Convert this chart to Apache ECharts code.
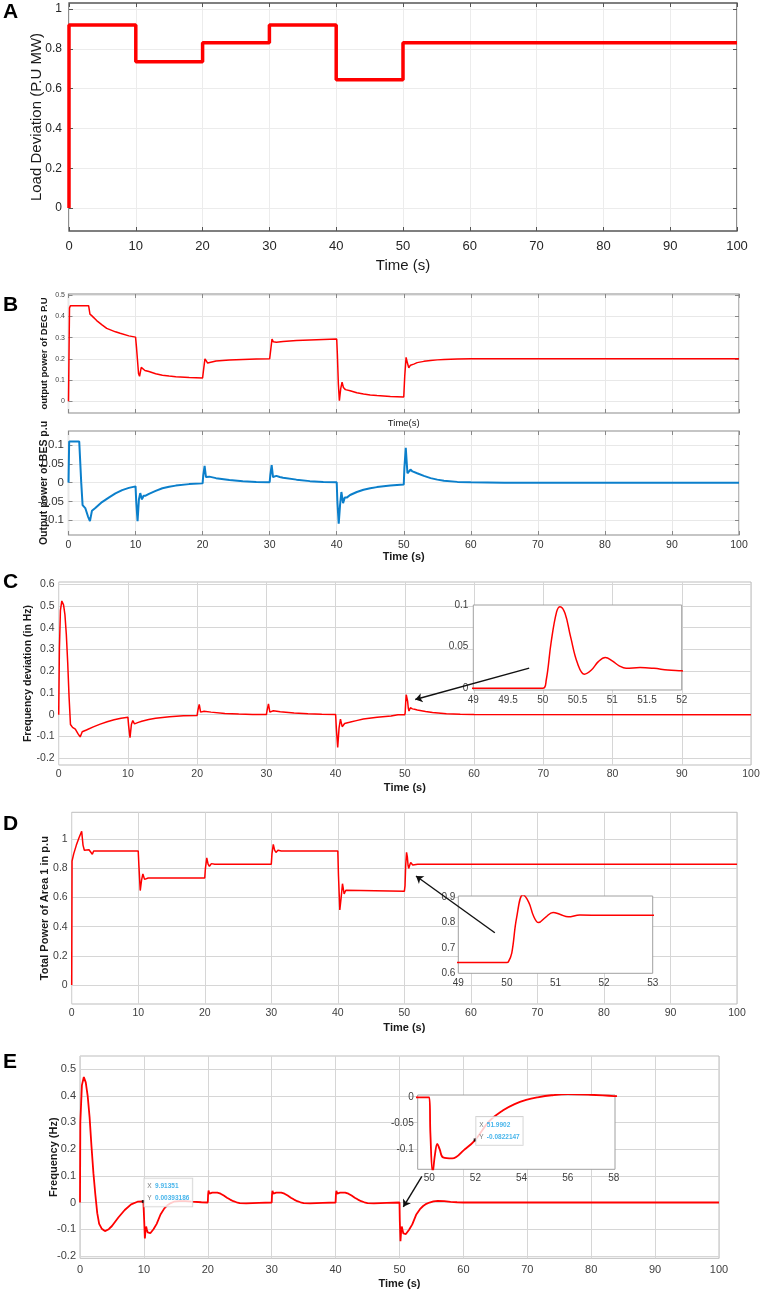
<!DOCTYPE html>
<html>
<head>
<meta charset="utf-8">
<script src="https://cdn.jsdelivr.net/npm/echarts@6.0.0/dist/echarts.min.js"></script>
<style>
    html, body { margin: 0; padding: 0; background: #fff; }
    #chart { width: 761px; height: 1291px; }
</style>
</head>
<body>
<div id="chart"></div>
<script>
// ---------- data ----------
// A: load deviation, step profile [time, value]
const loadSteps = [[0, 0], [0, 0.92], [10, 0.735], [20, 0.83], [30, 0.92], [40, 0.645], [50, 0.83], [100, 0.83]];

// B top: output power of DEG
const degPower = [[0, 0], [0.15, 0.44], [0.3, 0.45], [3.0, 0.45], [3.2, 0.41], [3.5, 0.402], [4.2, 0.38], [5, 0.36], [5.7, 0.343], [7, 0.327], [7.7, 0.32], [9, 0.308], [10, 0.302],
    [10.15, 0.25], [10.45, 0.13], [10.6, 0.118], [10.85, 0.16], [11.05, 0.165], [11.4, 0.145], [12, 0.14], [13, 0.13], [14, 0.123], [15, 0.119], [16, 0.116], [18, 0.112], [20, 0.11],
    [20.15, 0.15], [20.35, 0.2], [20.55, 0.19], [20.75, 0.18], [21, 0.186], [22, 0.19], [24, 0.194], [26, 0.197], [28, 0.199], [30, 0.2],
    [30.15, 0.24], [30.35, 0.293], [30.55, 0.28], [30.75, 0.273], [31, 0.278], [32, 0.281], [34, 0.286], [36, 0.289], [38, 0.291], [40, 0.293],
    [40.1, 0.22], [40.25, 0.08], [40.4, 0.003], [40.6, 0.06], [40.8, 0.09], [41, 0.065], [41.3, 0.055], [42, 0.05], [43, 0.04], [44, 0.034], [45, 0.03], [46, 0.027], [48, 0.023], [50, 0.02],
    [50.15, 0.12], [50.35, 0.207], [50.55, 0.18], [50.75, 0.158], [51, 0.17], [51.5, 0.175], [52, 0.182], [53, 0.188], [54, 0.192], [55, 0.195], [56, 0.197], [58, 0.199], [60, 0.2], [100, 0.2]];

// B bottom: output power of BES
const besPower = [[0, 0], [0.1, 0.11], [1.6, 0.11], [1.9, 0.0], [2.1, -0.06], [2.5, -0.068], [2.9, -0.09], [3.2, -0.103], [3.5, -0.075], [4, -0.068], [5, -0.052], [6, -0.04], [7, -0.029], [8, -0.02], [9, -0.014], [10, -0.01],
    [10.1, -0.05], [10.3, -0.103], [10.5, -0.045], [10.7, -0.028], [10.95, -0.045], [11.2, -0.035], [11.5, -0.035], [12, -0.03], [13, -0.022], [14, -0.015], [15, -0.011], [16, -0.008], [18, -0.004], [20, -0.002],
    [20.1, 0.02], [20.3, 0.045], [20.5, 0.015], [20.7, 0.01], [21, 0.016], [21.5, 0.014], [22, 0.012], [24, 0.007], [26, 0.004], [28, 0.002], [30, 0.001],
    [30.1, 0.02], [30.3, 0.047], [30.5, 0.015], [30.7, 0.01], [31, 0.018], [31.5, 0.015], [32, 0.013], [34, 0.008], [36, 0.004], [38, 0.002], [40, 0.001],
    [40.1, -0.05], [40.3, -0.11], [40.5, -0.06], [40.7, -0.025], [40.95, -0.055], [41.2, -0.04], [41.5, -0.04], [42, -0.033], [43, -0.025], [44, -0.019], [45, -0.015], [46, -0.012], [48, -0.008], [50, -0.005],
    [50.1, 0.04], [50.3, 0.093], [50.55, 0.025], [50.8, 0.022], [51, 0.035], [51.3, 0.03], [52, 0.025], [53, 0.018], [54, 0.012], [55, 0.008], [56, 0.005], [58, 0.002], [60, 0.001], [65, 0], [100, 0]];

// C: frequency deviation
const freqDev = [[0, 0], [0.1, 0.3], [0.25, 0.48], [0.45, 0.523], [0.7, 0.505], [0.9, 0.46], [1.1, 0.37], [1.3, 0.24], [1.5, 0.08], [1.7, -0.045], [2.0, -0.058], [2.4, -0.066], [2.8, -0.088], [3.1, -0.102], [3.4, -0.078], [4, -0.07], [5, -0.056], [6, -0.043], [7, -0.032], [8, -0.023], [9, -0.016], [10, -0.012],
    [10.1, -0.05], [10.3, -0.105], [10.5, -0.045], [10.7, -0.027], [10.95, -0.042], [11.2, -0.035], [11.5, -0.035], [12, -0.03], [13, -0.022], [14, -0.016], [16, -0.009], [18, -0.005], [20, -0.003],
    [20.1, 0.02], [20.3, 0.047], [20.5, 0.012], [20.7, 0.01], [21, 0.016], [22, 0.012], [24, 0.006], [26, 0.003], [28, 0.001], [30, 0.001],
    [30.1, 0.02], [30.3, 0.05], [30.5, 0.012], [30.7, 0.012], [31, 0.018], [32, 0.014], [34, 0.008], [36, 0.004], [38, 0.002], [40, 0.001],
    [40.1, -0.06], [40.3, -0.15], [40.5, -0.06], [40.7, -0.02], [40.95, -0.055], [41.3, -0.04], [42, -0.035], [43, -0.027], [44, -0.02], [46, -0.012], [48, -0.006], [49, 0], [50, 0],
    [50.05, 0.01], [50.12, 0.055], [50.2, 0.092], [50.25, 0.098], [50.32, 0.09], [50.4, 0.062], [50.5, 0.03], [50.6, 0.017], [50.7, 0.022], [50.8, 0.032], [50.9, 0.037], [51, 0.033], [51.1, 0.027], [51.2, 0.024], [51.4, 0.025], [51.6, 0.024], [51.8, 0.022], [52, 0.021],
    [53, 0.015], [54, 0.01], [56, 0.005], [58, 0.002], [60, 0.001], [100, 0]];

// D: total power of area 1
const totalPower = [[0, 0], [0.05, 0.85], [0.3, 0.9], [0.7, 0.96], [1.1, 1.01], [1.5, 1.055], [1.7, 0.96], [1.9, 0.925], [2.2, 0.93], [2.6, 0.928], [2.9, 0.915], [3.1, 0.897], [3.3, 0.92], [3.6, 0.92], [10, 0.92],
    [10.1, 0.82], [10.3, 0.648], [10.5, 0.72], [10.7, 0.762], [10.95, 0.725], [11.2, 0.738], [11.5, 0.734], [20, 0.735],
    [20.1, 0.8], [20.3, 0.872], [20.5, 0.83], [20.7, 0.815], [21, 0.833], [21.5, 0.829], [30, 0.829],
    [30.1, 0.9], [30.3, 0.965], [30.5, 0.925], [30.7, 0.91], [31, 0.925], [31.5, 0.92], [40, 0.92],
    [40.1, 0.75], [40.3, 0.515], [40.5, 0.6], [40.7, 0.695], [40.95, 0.625], [41.2, 0.65], [41.5, 0.64], [50, 0.643],
    [50.03, 0.645], [50.1, 0.68], [50.2, 0.82], [50.33, 0.91], [50.45, 0.88], [50.55, 0.825], [50.65, 0.8], [50.8, 0.822], [50.95, 0.84], [51.1, 0.832], [51.26, 0.823], [51.5, 0.83], [52, 0.829], [100, 0.829]];

// E: frequency
const freqE = [[0, 0], [0.05, 0.3], [0.3, 0.44], [0.6, 0.47], [0.9, 0.45], [1.2, 0.4], [1.5, 0.32], [1.8, 0.21], [2.1, 0.11], [2.4, 0.03], [2.7, -0.04], [3.0, -0.08], [3.4, -0.098], [3.9, -0.107], [4.5, -0.1], [5, -0.088], [6, -0.056], [7, -0.028], [8, -0.007], [9, 0.003], [9.91351, 0.00393186], [10, 0.004],
    [10.05, -0.07], [10.15, -0.135], [10.25, -0.105], [10.35, -0.09], [10.45, -0.1], [10.6, -0.112], [11, -0.115], [11.5, -0.1], [12, -0.08], [12.6, -0.045], [13.2, -0.022], [13.7, -0.01], [14.2, -0.002], [14.7, 0.003], [15.5, 0.005], [16.5, 0.005], [17.5, 0.003], [19, 0.001], [20, 0],
    [20.05, 0.03], [20.12, 0.045], [20.25, 0.033], [20.4, 0.032], [20.7, 0.037], [21, 0.039], [21.5, 0.037], [22, 0.033], [22.5, 0.026], [23, 0.018], [23.5, 0.011], [24, 0.005], [24.5, 0.001], [25, -0.002], [26, -0.003], [27, -0.002], [28, -0.001], [30, 0],
    [30.05, 0.03], [30.12, 0.044], [30.25, 0.033], [30.4, 0.032], [30.7, 0.037], [31, 0.039], [31.5, 0.037], [32, 0.033], [32.5, 0.026], [33, 0.018], [33.5, 0.011], [34, 0.005], [34.5, 0.001], [35, -0.002], [36, -0.003], [37, -0.002], [38, -0.001], [40, 0],
    [40.05, 0.03], [40.12, 0.044], [40.25, 0.033], [40.4, 0.032], [40.7, 0.037], [41, 0.039], [41.5, 0.037], [42, 0.033], [42.5, 0.026], [43, 0.018], [43.5, 0.011], [44, 0.005], [44.5, 0.001], [45, -0.002], [46, -0.003], [47, -0.002], [48, -0.001], [50, 0],
    [50.05, -0.07], [50.15, -0.145], [50.25, -0.11], [50.35, -0.09], [50.45, -0.1], [50.6, -0.116], [51, -0.118], [51.5, -0.102], [52, -0.082], [52.6, -0.046], [53.2, -0.025], [53.7, -0.013], [54.2, -0.005], [54.7, 0.0], [55.3, 0.004], [56, 0.0062], [57, 0.005], [58, 0.0025], [59, 0.001], [60, 0], [100, 0]];

// data tips shown in E
const tipMain = [9.91351, 0.00393186];
const tipInset = [51.9902, -0.0822147];

// arrows [from, to] in data coordinates of the main axes
const arrowC = [[67.96, 0.214], [51.5, 0.07]];
const arrowD = [[63.6, 0.359], [51.75, 0.748]];
const arrowE = [[53.5, 0.098], [50.6, -0.016]];

// tick labels
const ticksA = [0, 0.2, 0.4, 0.6, 0.8, 1];
const ticksB1 = [0, 0.1, 0.2, 0.3, 0.4, 0.5];
const ticksB2 = [-0.1, -0.05, 0, 0.05, 0.1];
const ticksC = [-0.2, -0.1, 0, 0.1, 0.2, 0.3, 0.4, 0.5, 0.6];
const ticksD = [0, 0.2, 0.4, 0.6, 0.8, 1];
const ticksE = [-0.2, -0.1, 0, 0.1, 0.2, 0.3, 0.4, 0.5];
const ticksCin = [0, 0.05, 0.1];
const ticksDin = [0.6, 0.7, 0.8, 0.9];
const ticksEin = [-0.1, -0.05, 0];
const ticksEinX = [50, 52, 54, 56, 58];

// ---------- chart ----------
const FONT = '"Liberation Sans", Arial, Helvetica, sans-serif';
const chart = echarts.init(document.getElementById('chart'), null, { renderer: 'canvas' });

function fmt(v) { return String(+(+v).toFixed(4)); }

function axis(gi, c) {
    return {
        type: 'value', gridIndex: gi, position: c.position,
        min: c.min, max: c.max, interval: c.interval, z: c.z || 0,
        name: c.name || '', nameLocation: 'middle', nameGap: c.nameGap || 0, nameMoveOverlap: false,
        nameTextStyle: { fontFamily: FONT, fontSize: c.nameSize || 11, fontWeight: c.nameBold ? 'bold' : 'normal', color: '#1a1a1a' },
        axisLine: { show: false, onZero: false },
        axisTick: { show: !!c.tick, inside: true, length: 4, customValues: c.ticks, lineStyle: { color: c.tick || '#555', width: 1 } },
        axisLabel: {
            show: c.label !== false, customValues: c.ticks, margin: c.margin || 4,
            fontFamily: FONT, fontSize: c.fontSize || 10.5, color: c.color || '#404040', formatter: fmt
        },
        splitLine: { show: !!c.split, lineStyle: { color: c.split, width: 1 } }
    };
}

const grids = [
    { left: 69, top: 3, width: 668, height: 228, borderColor: '#555', borderWidth: 1.3 },          // A
    { left: 68.5, top: 294, width: 670.5, height: 119, borderColor: '#8c8c8c', borderWidth: 1.2 }, // B top
    { left: 68.5, top: 431, width: 670.5, height: 104, borderColor: '#8c8c8c', borderWidth: 1.2 }, // B bottom
    { left: 58.7, top: 582, width: 692.3, height: 183, borderColor: '#bdbdbd', borderWidth: 1 },   // C
    { left: 71.7, top: 812.3, width: 665.3, height: 191.7, borderColor: '#bdbdbd', borderWidth: 1 }, // D
    { left: 80, top: 1056, width: 639, height: 202.3, borderColor: '#bdbdbd', borderWidth: 1 },    // E
    { left: 473.3, top: 605, width: 208.4, height: 85, borderColor: '#a0a0a0', borderWidth: 1, z: 3 },   // C inset
    { left: 458.3, top: 896, width: 194.4, height: 77.3, borderColor: '#a0a0a0', borderWidth: 1, z: 3 }, // D inset
    { left: 417.7, top: 1095, width: 197.3, height: 74.3, borderColor: '#a0a0a0', borderWidth: 1, z: 3 } // E inset
].map(g => Object.assign({ show: true, backgroundColor: '#fff', outerBoundsMode: 'none', containLabel: false }, g));

const xAxes = [
    axis(0, { min: 0, max: 100, interval: 10, split: '#ececec', tick: '#555', fontSize: 13, color: '#262626', margin: 9, name: 'Time (s)', nameSize: 15, nameGap: 27 }),
    axis(1, { min: 0, max: 100, interval: 10, split: '#e8e8e8', tick: '#888', label: false, name: 'Time(s)', nameSize: 9.5, nameGap: 5 }),
    axis(2, { min: 0, max: 100, interval: 10, split: '#e8e8e8', tick: '#888', fontSize: 10.5, color: '#333', margin: 5, name: 'Time (s)', nameSize: 11, nameBold: true, nameGap: 16 }),
    axis(3, { min: 0, max: 100, interval: 10, split: '#d6d6d6', fontSize: 10.5, margin: 4, name: 'Time (s)', nameSize: 11, nameBold: true, nameGap: 17 }),
    axis(4, { min: 0, max: 100, interval: 10, split: '#d6d6d6', fontSize: 10.5, margin: 4, name: 'Time (s)', nameSize: 11, nameBold: true, nameGap: 18 }),
    axis(5, { min: 0, max: 100, interval: 10, split: '#d6d6d6', fontSize: 11, margin: 6, name: 'Time (s)', nameSize: 11, nameBold: true, nameGap: 20 }),
    axis(6, { min: 49, max: 52, interval: 0.5, fontSize: 10, margin: 5, z: 4 }),
    axis(7, { min: 49, max: 53, interval: 1, fontSize: 10, margin: 5, z: 4 }),
    axis(8, { min: 49.5, max: 58.05, ticks: ticksEinX, fontSize: 10, margin: 4, z: 4 }),
    // box ticks on the top edge
    axis(0, { position: 'top', min: 0, max: 100, interval: 10, tick: '#555', label: false }),
    axis(1, { position: 'top', min: 0, max: 100, interval: 10, tick: '#888', label: false }),
    axis(2, { position: 'top', min: 0, max: 100, interval: 10, tick: '#888', label: false })
];

const yAxes = [
    axis(0, { min: -0.115, max: 1.03, ticks: ticksA, split: '#ececec', tick: '#555', fontSize: 12, color: '#262626', margin: 7, name: 'Load Deviation (P.U MW)', nameSize: 15, nameGap: 24.5 }),
    axis(1, { min: -0.055, max: 0.505, ticks: ticksB1, split: '#e8e8e8', tick: '#888', fontSize: 7, color: '#444', margin: 3.5, name: 'output power of DEG P.U', nameSize: 9.5, nameBold: true, nameGap: 19 }),
    axis(2, { min: -0.14, max: 0.138, ticks: ticksB2, split: '#e8e8e8', tick: '#888', fontSize: 11.5, color: '#333', margin: 4.5, name: 'Output power of BES p.u', nameSize: 10.5, nameBold: true, nameGap: 19 }),
    axis(3, { min: -0.231, max: 0.61, ticks: ticksC, split: '#d6d6d6', fontSize: 10.5, margin: 4, name: 'Frequency deviation (in Hz)', nameSize: 10.5, nameBold: true, nameGap: 25.5 }),
    axis(4, { min: -0.13, max: 1.185, ticks: ticksD, split: '#d6d6d6', fontSize: 10.5, margin: 4, name: 'Total Power of Area 1 in p.u', nameSize: 11, nameBold: true, nameGap: 21 }),
    axis(5, { min: -0.209, max: 0.549, ticks: ticksE, split: '#d6d6d6', fontSize: 11, margin: 4, name: 'Frequency (Hz)', nameSize: 11, nameBold: true, nameGap: 21 }),
    axis(6, { min: -0.002, max: 0.1, ticks: ticksCin, fontSize: 10, margin: 5, z: 4 }),
    axis(7, { min: 0.6, max: 0.905, ticks: ticksDin, fontSize: 10, margin: 3, z: 4 }),
    axis(8, { min: -0.139, max: 0.0045, ticks: ticksEin, fontSize: 10, margin: 4, z: 4 }),
    // box ticks on the right edge
    axis(0, { position: 'right', min: -0.115, max: 1.03, ticks: ticksA, tick: '#555', label: false }),
    axis(1, { position: 'right', min: -0.055, max: 0.505, ticks: ticksB1, tick: '#888', label: false }),
    axis(2, { position: 'right', min: -0.14, max: 0.138, ticks: ticksB2, tick: '#888', label: false })
];

function curve(idx, data, color, width, extra) {
    return Object.assign({
        type: 'line', xAxisIndex: idx, yAxisIndex: idx, data: data,
        showSymbol: false, symbol: 'none', clip: true,
        lineStyle: { color: color, width: width }, itemStyle: { color: color }
    }, extra || {});
}

function arrow(idx, coords) {
    return {
        type: 'lines', coordinateSystem: 'cartesian2d', xAxisIndex: idx, yAxisIndex: idx, z: 10,
        symbol: ['none', 'arrow'], symbolSize: 7,
        lineStyle: { color: '#111', width: 1.4, opacity: 1, curveness: 0 },
        data: [{ coords: coords }]
    };
}

function dataTip(idx, p) {
    return {
        type: 'scatter', xAxisIndex: idx, yAxisIndex: idx, z: 10,
        symbol: 'rect', symbolSize: 3, itemStyle: { color: '#000' },
        data: [p],
        label: {
            show: true, position: [2.5, -21.5],
            formatter: '{k|X} {v|' + p[0] + '}\n{k|Y} {v|' + p[1] + '}',
            backgroundColor: '#fff', borderColor: '#c8c8c8', borderWidth: 0.8, padding: [2, 3, 2, 3],
            rich: {
                k: { fontFamily: FONT, fontSize: 6.5, color: '#555', lineHeight: 8 },
                v: { fontFamily: FONT, fontSize: 6.5, color: '#1aa3e6', fontWeight: 'bold', lineHeight: 8 }
            }
        }
    };
}

const RED = '#ff0000';
const series = [
    curve(0, loadSteps, RED, 3.5, { step: 'end' }),
    curve(1, degPower, RED, 1.5),
    curve(2, besPower, '#0b7fcb', 2),
    curve(3, freqDev, RED, 1.5),
    curve(4, totalPower, RED, 1.5),
    curve(5, freqE, RED, 1.8),
    curve(6, freqDev, RED, 1.5, { smooth: 0.4, z: 5 }),
    curve(7, totalPower, RED, 1.5, { smooth: 0.4, z: 5 }),
    curve(8, freqE, RED, 1.8, { smooth: 0.4, z: 5 }),
    arrow(3, arrowC),
    arrow(4, arrowD),
    arrow(5, arrowE),
    dataTip(5, tipMain),
    dataTip(8, tipInset)
];

const letters = [['A', 12], ['B', 305], ['C', 582], ['D', 824], ['E', 1062]];

chart.setOption({
    animation: false,
    backgroundColor: '#fff',
    grid: grids,
    xAxis: xAxes,
    yAxis: yAxes,
    series: series,
    graphic: letters.map(l => ({
        type: 'text', left: 3, top: l[1] - 10,
        style: { text: l[0], font: 'bold 21px Arial, "Liberation Sans", sans-serif', fill: '#000' }
    }))
});
window.onresize = chart.resize;
</script>
</body>
</html>
